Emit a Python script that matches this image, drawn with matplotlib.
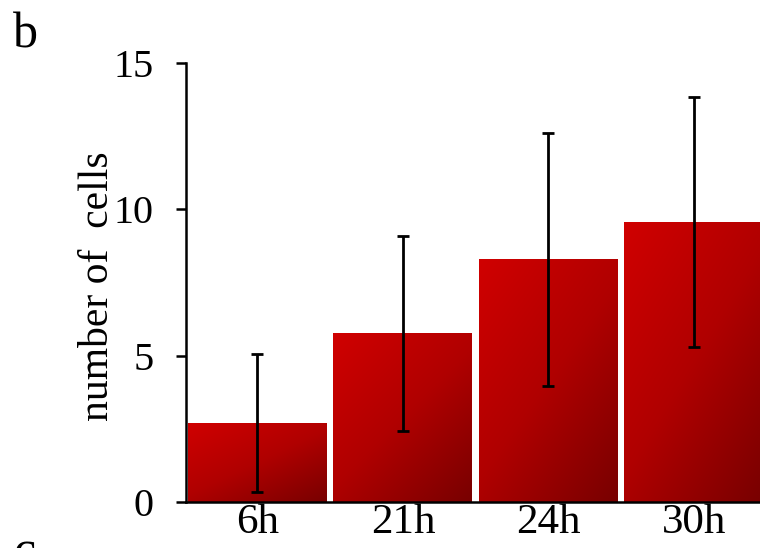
import numpy as np
import matplotlib
matplotlib.use("Agg")
import matplotlib.pyplot as plt
from matplotlib.colors import LinearSegmentedColormap
from matplotlib.patches import Rectangle

categories = ["6h", "21h", "24h", "30h"]
means = [2.70, 5.77, 8.30, 9.57]
errors = [2.35, 3.33, 4.32, 4.27]
yticks = [0, 5, 10, 15]

plt.rcParams['font.family'] = ['Liberation Serif', 'DejaVu Serif']

fig = plt.figure(figsize=(7.6, 5.48), dpi=100)
ax = fig.add_axes([186/760, 1-502/548, 1-186/760, (502-63)/548])

x = np.arange(len(categories))
width = 0.955
cmap = LinearSegmentedColormap.from_list("redgrad", ["#d00000", "#b00000", "#780000"])
# diagonal gradient: bright top-left, dark bottom-right
gx, gy = np.meshgrid(np.linspace(0, 1, 200), np.linspace(0, 1, 200))
grad = 0.45 * gx + 0.55 * gy  # gy=0 is top with origin='upper'

bars = ax.bar(x, means, width=width, color='none', edgecolor='none', zorder=1)
for b in bars:
    x0, y0 = b.get_x(), b.get_y()
    w, h = b.get_width(), b.get_height()
    im = ax.imshow(grad, cmap=cmap, vmin=0, vmax=1, origin='upper',
                   extent=[x0, x0 + w, y0, y0 + h], aspect='auto',
                   interpolation='bilinear', zorder=1)
    im.set_clip_path(Rectangle((x0, y0), w, h, transform=ax.transData))

ax.errorbar(x, means, yerr=errors, fmt='none', ecolor='black',
            elinewidth=2.0, capsize=4, capthick=2.0, zorder=3)

ax.set_xlim(-0.491, 3.454)
ax.set_ylim(0, 15)
ax.set_yticks(yticks)
ax.set_xticks(x)
ax.set_xticklabels(categories)
ax.tick_params(axis='y', length=7.5, width=1.8, labelsize=29, pad=16, direction='out')
ax.tick_params(axis='x', length=0, labelsize=31, pad=1)

for s in ['top', 'right']:
    ax.spines[s].set_visible(False)
ax.spines['left'].set_linewidth(1.8)
ax.spines['bottom'].set_linewidth(1.8)

fig.text(98/760, 1-286/548, "number of  cells", rotation=90, ha='center', va='center', fontsize=30)
fig.text(13/760, 1-47/548, "b", fontsize=36, ha='left', va='baseline')
fig.text(13/760, 1-566/548, "c", fontsize=36, ha='left', va='baseline')

fig.savefig("out.png", dpi=100)
